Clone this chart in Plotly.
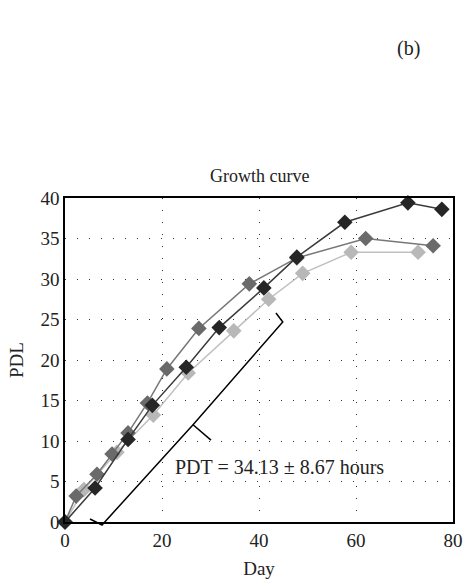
import plotly.graph_objects as go

# Data
day_black = [0, 6.2, 13.0, 18.0, 25.0, 31.8, 41.0, 47.8, 57.7, 70.7, 77.7]
pdl_black = [0, 4.2, 10.2, 14.4, 19.1, 24.0, 28.9, 32.7, 37.0, 39.4, 38.6]

day_mid = [0, 2.3, 6.6, 9.7, 13.0, 17.0, 21.0, 27.6, 38.0, 47.8, 62.0, 75.9]
pdl_mid = [0, 3.2, 5.9, 8.4, 11.0, 14.7, 18.9, 23.9, 29.4, 32.6, 35.0, 34.1]

day_light = [0, 3.9, 10.7, 18.2, 25.4, 34.8, 42.0, 49.0, 59.0, 72.8]
pdl_light = [0, 4.0, 8.6, 13.2, 18.4, 23.6, 27.5, 30.7, 33.3, 33.3]

# Bracket annotation (data coordinates)
br_x = [5.15, 7.63, 26.4, 44.9, 43.5]
br_y = [0.37, -0.37, 12.0, 24.7, 25.8]
tick_x = [26.4, 30.1]
tick_y = [12.0, 10.1]

XR = [0, 80]
YR = [0, 40]
FONT = "Liberation Serif"
TXT = "#222222"

fig = go.Figure()
series = [
    (day_light, pdl_light, "#b8b8b8", "#c0c0c0"),
    (day_mid, pdl_mid, "#6a6a6a", "#777777"),
    (day_black, pdl_black, "#262626", "#3a3a3a"),
]
for xs, ys, mc, lc in series:
    fig.add_trace(go.Scatter(
        x=xs, y=ys, mode="lines+markers",
        line=dict(color=lc, width=1.5),
        marker=dict(symbol="diamond", size=12, color=mc),
        cliponaxis=False, showlegend=False,
    ))

def py(v):
    return (v - YR[0]) / (YR[1] - YR[0])

path = "M " + " L ".join(f"{x},{py(y)}" for x, y in zip(br_x, br_y))
fig.add_shape(type="path", path=path, xref="x", yref="paper",
              line=dict(color="black", width=1.5), layer="above")
fig.add_shape(type="line", x0=tick_x[0], y0=py(tick_y[0]), x1=tick_x[1], y1=py(tick_y[1]),
              xref="x", yref="paper", line=dict(color="black", width=1.5), layer="above")

fig.add_annotation(x=44.3, y=6.8, xref="x", yref="y", text="PDT = 34.13 ± 8.67 hours",
                   showarrow=False, font=dict(family=FONT, size=20, color=TXT))
fig.add_annotation(x=0.92, y=1.46, xref="paper", yref="paper", yanchor="middle",
                   text="(b)", showarrow=False, font=dict(family=FONT, size=20, color=TXT))
fig.add_annotation(x=0.5, y=1.068, xref="paper", yref="paper", yanchor="middle",
                   text="Growth curve", showarrow=False, font=dict(family=FONT, size=18, color=TXT))

axis_common = dict(showline=True, linecolor="black", linewidth=1.5, mirror=True,
                   showgrid=True, gridcolor="#333333", griddash="1px,11px", gridwidth=1.2,
                   zeroline=False, ticks="", automargin=False,
                   tickfont=dict(family=FONT, size=19, color=TXT))
fig.update_xaxes(range=XR, dtick=20, title=dict(text="Day", font=dict(family=FONT, size=19, color=TXT), standoff=12),
                 **axis_common)
fig.update_yaxes(range=YR, dtick=5, title=dict(text="PDL", font=dict(family=FONT, size=19, color=TXT), standoff=12),
                 **axis_common)

fig.update_layout(
    width=466, height=586,
    margin=dict(l=65, r=13, t=198, b=64),
    paper_bgcolor="white", plot_bgcolor="white",
)
fig.write_html("out.html")
